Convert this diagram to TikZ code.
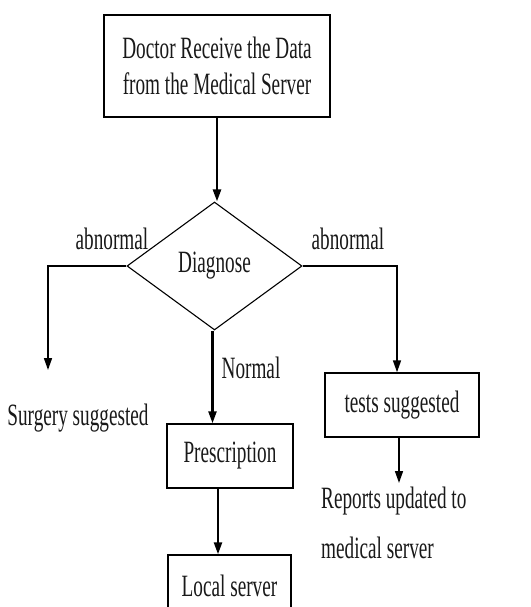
\documentclass[tikz,border=0pt]{standalone}
\usepackage{fontspec}
\setmainfont{Liberation Serif}[FakeStretch=0.62]
\usetikzlibrary{shapes.geometric,arrows.meta}

\tikzset{
  txt/.style={font=\fontsize{31}{36}\selectfont, text=black!90, inner sep=0pt},
  box/.style={txt, draw=black, line width=1.4pt, rectangle, align=center},
  decision/.style={txt, draw=black, line width=1.1pt, diamond,
    minimum width=175pt, minimum height=128pt},
  lbl/.style={txt},
  arr/.style={draw=black, line width=2.4pt, -{Triangle[length=12pt,width=8pt]}},
  thinarr/.style={draw=black, line width=1.6pt, -{Triangle[length=12pt,width=8pt]}}
}

\begin{document}
\begin{tikzpicture}[x=1pt,y=-1pt]
  \useasboundingbox (0,0) rectangle (530,607);
  \clip (0,0) rectangle (530,607);
  \fill[white] (0,0) rectangle (530,607);

  % process boxes
  \node[box, minimum width=226pt, minimum height=102pt] (recv) at (217,66)
    {Doctor Receive the Data\\from the Medical Server};
  \node[decision] (diag) at (214.5,266) {\raisebox{6pt}{Diagnose}};
  \node[box, minimum width=126pt, minimum height=64pt] (presc) at (230,456) {Prescription};
  \node[box, minimum width=123pt, minimum height=62pt] (local) at (229.5,586) {Local server};
  \node[box, minimum width=154pt, minimum height=64pt] (tests) at (402,405) {tests suggested};

  % free-standing labels
  \node[lbl, anchor=base] (abl) at (112,249) {abnormal};
  \node[lbl, anchor=base] (abr) at (348,249) {abnormal};
  \node[lbl, anchor=base] (norm) at (251,378) {Normal};
  \node[lbl, anchor=base] (surg) at (78,425) {Surgery suggested};
  \node[lbl, anchor=base west] (rep1) at (321,508) {Reports updated to};
  \node[lbl, anchor=base west] (rep2) at (321,558) {medical server};

  % loose arrow ends
  \coordinate (surgTop) at (48,370);
  \coordinate (repTop) at (399,483);

  % connectors
  \draw[arr] (recv.south) -- (recv.south |- diag.north);
  \draw[arr] ([xshift=-2pt]diag.south) -- ([xshift=-2pt]diag.south |- presc.north);
  \draw[arr] ([xshift=-12pt]presc.south) -- ([xshift=-12pt]presc.south |- local.north);
  \draw[thinarr] (diag.west) -| (surgTop);
  \draw[thinarr] (diag.east) -| ([xshift=-5pt]tests.north);
  \draw[thinarr] (tests.south -| repTop) -- (repTop);
\end{tikzpicture}
\end{document}
